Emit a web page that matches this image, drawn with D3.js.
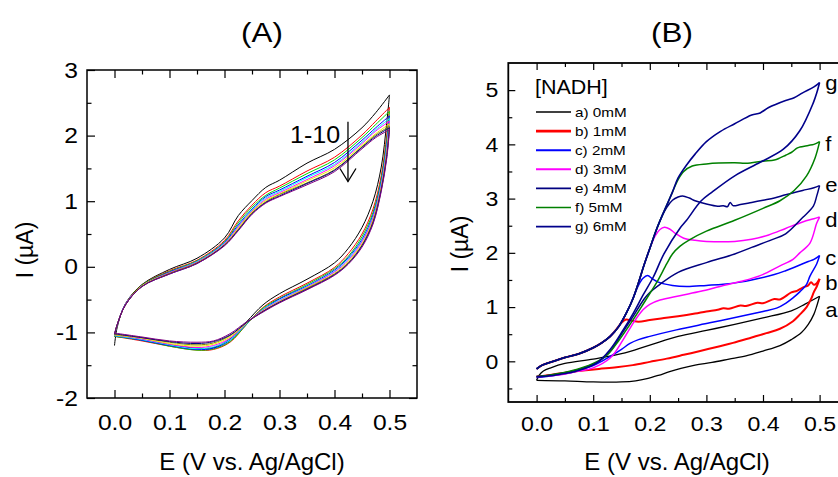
<!DOCTYPE html>
<html>
<head>
<meta charset="utf-8">
<script src="https://cdn.jsdelivr.net/npm/d3@7"></script>
<style>
body{margin:0;background:#fff}
text{font-family:"Liberation Sans",Arial,sans-serif;fill:#000}
</style>
</head>
<body>
<svg id="chart" width="838" height="477"></svg>
<script>
// ---------------- Panel A data: 10 consecutive CV cycles ----------------
const cyclesA = ["1","2","3","4","5","6","7","8","9","10"];
const potentialA_fwd = [0, 0.005, 0.02, 0.05, 0.1, 0.15, 0.2, 0.225, 0.25, 0.275, 0.3, 0.35, 0.4, 0.45, 0.475, 0.5];
const potentialA_rev = [0.5, 0.495, 0.485, 0.47, 0.45, 0.425, 0.4, 0.35, 0.3, 0.27, 0.24, 0.21, 0.18, 0.15, 0.1, 0.05, 0.0];
const currentA_fwd = [
  [-1.20,-0.92,-0.56,-0.27,-0.04,0.13,0.44,0.78,1.01,1.21,1.32,1.58,1.79,2.12,2.35,2.62],
  [-1.06,-0.89,-0.57,-0.28,-0.06,0.10,0.40,0.70,0.94,1.13,1.23,1.46,1.67,2.01,2.22,2.43],
  [-1.06,-0.89,-0.57,-0.28,-0.07,0.09,0.38,0.67,0.91,1.09,1.20,1.42,1.63,1.97,2.17,2.37],
  [-1.05,-0.89,-0.57,-0.29,-0.08,0.08,0.37,0.64,0.88,1.07,1.17,1.38,1.59,1.93,2.12,2.30],
  [-1.05,-0.88,-0.57,-0.29,-0.09,0.08,0.36,0.62,0.87,1.05,1.15,1.36,1.56,1.90,2.09,2.26],
  [-1.04,-0.88,-0.57,-0.29,-0.09,0.07,0.35,0.61,0.85,1.03,1.13,1.33,1.54,1.88,2.07,2.22],
  [-1.04,-0.88,-0.58,-0.29,-0.10,0.06,0.34,0.59,0.84,1.01,1.11,1.31,1.51,1.85,2.03,2.18],
  [-1.03,-0.88,-0.58,-0.30,-0.10,0.06,0.33,0.57,0.82,0.99,1.10,1.28,1.48,1.83,2.01,2.14],
  [-1.03,-0.88,-0.58,-0.30,-0.11,0.05,0.33,0.56,0.81,0.98,1.08,1.27,1.47,1.82,1.99,2.12],
  [-1.02,-0.88,-0.58,-0.30,-0.11,0.05,0.32,0.55,0.80,0.97,1.07,1.25,1.45,1.80,1.97,2.09]
];
const currentA_rev = [
  [2.62,2.20,1.52,1.00,0.60,0.28,0.06,-0.19,-0.41,-0.58,-0.84,-1.10,-1.23,-1.24,-1.19,-1.11,-1.06],
  [2.43,2.01,1.39,0.88,0.50,0.20,-0.01,-0.25,-0.46,-0.62,-0.88,-1.15,-1.26,-1.27,-1.21,-1.13,-1.06],
  [2.37,1.94,1.34,0.83,0.46,0.16,-0.03,-0.27,-0.48,-0.63,-0.88,-1.14,-1.25,-1.27,-1.21,-1.12,-1.06],
  [2.30,1.87,1.30,0.79,0.42,0.14,-0.05,-0.29,-0.49,-0.65,-0.87,-1.12,-1.24,-1.26,-1.20,-1.12,-1.05],
  [2.26,1.83,1.27,0.76,0.40,0.12,-0.07,-0.30,-0.51,-0.65,-0.87,-1.11,-1.22,-1.25,-1.19,-1.11,-1.05],
  [2.22,1.79,1.24,0.74,0.38,0.10,-0.08,-0.31,-0.52,-0.66,-0.86,-1.09,-1.20,-1.23,-1.18,-1.10,-1.04],
  [2.18,1.74,1.21,0.71,0.35,0.08,-0.10,-0.32,-0.53,-0.67,-0.86,-1.07,-1.18,-1.21,-1.17,-1.09,-1.04],
  [2.14,1.71,1.19,0.69,0.33,0.06,-0.11,-0.33,-0.54,-0.68,-0.85,-1.05,-1.16,-1.19,-1.15,-1.08,-1.03],
  [2.12,1.68,1.17,0.67,0.32,0.05,-0.12,-0.34,-0.54,-0.68,-0.85,-1.04,-1.14,-1.17,-1.14,-1.08,-1.02],
  [2.09,1.65,1.15,0.65,0.30,0.04,-0.13,-0.35,-0.55,-0.69,-0.84,-1.02,-1.13,-1.15,-1.13,-1.07,-1.01]
];
const xTicksA = [0, 0.1, 0.2, 0.3, 0.4, 0.5];
const xMinorA = [0.05, 0.15, 0.25, 0.35, 0.45];
const yTicksA = [-2, -1, 0, 1, 2, 3];
const yMinorA = [-1.5, -0.5, 0.5, 1.5, 2.5];
const annotationA = {text: "1-10", e: 0.4245, iTop: 2.21, iBottom: 1.30};

// ---------------- Panel B data: [E (V), I (uA)] per NADH concentration ----------------
const labelsB = ["a", "b", "c", "d", "e", "f", "g"];
const legendB = ["a) 0mM", "b) 1mM", "c) 2mM", "d) 3mM", "e) 4mM", "f) 5mM", "g) 6mM"];
const labelLevelB = [0.82, 1.31, 1.78, 2.47, 3.12, 3.88, 5.0];

const nadh0_fwd = [[0,-0.35],[0.005,-0.25],[0.012,-0.18],[0.025,-0.12],[0.05,-0.04],[0.1,0.04],[0.15,0.14],[0.2,0.30],[0.25,0.46],[0.3,0.57],[0.35,0.68],[0.4,0.80],[0.45,0.93],[0.475,1.06],[0.5,1.20]];
const nadh0_rev = [[0.5,1.20],[0.495,1.02],[0.49,0.87],[0.48,0.68],[0.468,0.53],[0.45,0.40],[0.43,0.29],[0.4,0.19],[0.37,0.10],[0.34,0.04],[0.31,-0.02],[0.28,-0.07],[0.255,-0.13],[0.235,-0.19],[0.215,-0.26],[0.195,-0.32],[0.175,-0.36],[0.15,-0.38],[0.1,-0.38],[0.05,-0.36],[0,-0.35]];

const nadh1_fwd = [[0,-0.14],[0.01,-0.07],[0.03,0.0],[0.05,0.07],[0.075,0.14],[0.1,0.25],[0.115,0.34],[0.13,0.46],[0.14,0.58],[0.15,0.71],[0.158,0.77],[0.168,0.75],[0.18,0.73],[0.2,0.76],[0.22,0.79],[0.25,0.83],[0.28,0.88],[0.3,0.92],[0.32,0.95],[0.33,0.98],[0.34,0.97],[0.36,1.03],[0.37,1.02],[0.39,1.08],[0.4,1.07],[0.42,1.15],[0.43,1.14],[0.45,1.27],[0.46,1.30],[0.47,1.36],[0.48,1.40],[0.485,1.46],[0.49,1.41],[0.495,1.44],[0.5,1.52]];
const nadh1_rev = [[0.5,1.52],[0.495,1.38],[0.49,1.28],[0.485,1.15],[0.477,1.0],[0.465,0.86],[0.453,0.74],[0.43,0.60],[0.406,0.52],[0.38,0.44],[0.347,0.34],[0.32,0.27],[0.289,0.19],[0.26,0.12],[0.23,0.05],[0.2,-0.01],[0.17,-0.07],[0.141,-0.11],[0.11,-0.14],[0.082,-0.17],[0.05,-0.21],[0.024,-0.25],[0,-0.28]];

const nadh2_fwd = [[0,-0.14],[0.01,-0.07],[0.03,0.0],[0.05,0.07],[0.075,0.14],[0.1,0.25],[0.115,0.34],[0.13,0.46],[0.145,0.64],[0.16,0.92],[0.17,1.15],[0.18,1.40],[0.188,1.53],[0.196,1.58],[0.205,1.52],[0.215,1.46],[0.24,1.40],[0.265,1.38],[0.3,1.40],[0.33,1.42],[0.36,1.46],[0.38,1.50],[0.42,1.60],[0.44,1.67],[0.45,1.71],[0.48,1.84],[0.49,1.88],[0.5,1.95]];
const nadh2_rev = [[0.5,1.95],[0.495,1.80],[0.483,1.57],[0.477,1.42],[0.465,1.28],[0.453,1.17],[0.44,1.07],[0.424,0.98],[0.4,0.92],[0.365,0.84],[0.306,0.71],[0.247,0.58],[0.2,0.46],[0.18,0.40],[0.165,0.33],[0.15,0.22],[0.13,0.09],[0.115,0.0],[0.1,-0.08],[0.08,-0.15],[0.059,-0.21],[0.03,-0.26],[0,-0.30]];

const nadh3_fwd = [[0,-0.14],[0.01,-0.07],[0.03,0.0],[0.05,0.07],[0.075,0.14],[0.1,0.25],[0.115,0.34],[0.13,0.46],[0.145,0.64],[0.16,0.92],[0.17,1.15],[0.18,1.45],[0.19,1.78],[0.2,2.08],[0.21,2.32],[0.218,2.43],[0.226,2.47],[0.235,2.44],[0.245,2.36],[0.26,2.27],[0.28,2.23],[0.3,2.21],[0.35,2.21],[0.38,2.25],[0.41,2.33],[0.44,2.45],[0.47,2.57],[0.49,2.63],[0.5,2.66]];
const nadh3_rev = [[0.5,2.66],[0.495,2.55],[0.483,2.18],[0.465,2.0],[0.453,1.88],[0.43,1.76],[0.395,1.58],[0.36,1.47],[0.324,1.38],[0.29,1.29],[0.253,1.21],[0.218,1.13],[0.2,1.05],[0.188,0.95],[0.171,0.71],[0.153,0.40],[0.13,0.06],[0.1,-0.12],[0.07,-0.19],[0.041,-0.25],[0,-0.29]];

const nadh4_fwd = [[0,-0.14],[0.01,-0.07],[0.03,0.0],[0.05,0.07],[0.075,0.14],[0.1,0.25],[0.115,0.34],[0.13,0.46],[0.145,0.64],[0.16,0.92],[0.17,1.15],[0.18,1.45],[0.19,1.78],[0.2,2.08],[0.21,2.38],[0.22,2.64],[0.23,2.84],[0.24,2.97],[0.25,3.03],[0.258,3.05],[0.27,3.01],[0.28,2.96],[0.3,2.90],[0.32,2.86],[0.33,2.87],[0.337,2.85],[0.342,2.93],[0.347,2.87],[0.36,2.89],[0.38,2.93],[0.4,2.97],[0.42,3.01],[0.44,3.07],[0.47,3.15],[0.49,3.20],[0.5,3.24]];
const nadh4_rev = [[0.5,3.24],[0.495,3.05],[0.489,2.86],[0.47,2.65],[0.44,2.35],[0.415,2.24],[0.38,2.10],[0.35,1.98],[0.3,1.82],[0.25,1.64],[0.218,1.42],[0.2,1.27],[0.19,1.15],[0.17,0.82],[0.15,0.50],[0.13,0.18],[0.11,0.0],[0.08,-0.13],[0.04,-0.23],[0,-0.29]];

const nadh5_fwd = [[0,-0.14],[0.01,-0.07],[0.03,0.0],[0.05,0.07],[0.075,0.14],[0.1,0.25],[0.115,0.34],[0.13,0.46],[0.145,0.64],[0.16,0.92],[0.17,1.15],[0.18,1.45],[0.19,1.78],[0.2,2.08],[0.21,2.38],[0.22,2.64],[0.23,2.88],[0.24,3.12],[0.25,3.35],[0.26,3.50],[0.275,3.60],[0.3,3.64],[0.35,3.66],[0.37,3.65],[0.4,3.69],[0.42,3.71],[0.43,3.75],[0.44,3.80],[0.45,3.85],[0.46,3.93],[0.465,3.95],[0.48,3.98],[0.49,4.00],[0.5,4.05]];
const nadh5_rev = [[0.5,4.05],[0.492,3.75],[0.477,3.42],[0.455,3.15],[0.43,2.96],[0.4,2.82],[0.35,2.60],[0.3,2.40],[0.27,2.24],[0.253,2.12],[0.24,1.98],[0.23,1.80],[0.212,1.45],[0.2,1.25],[0.185,1.0],[0.165,0.68],[0.145,0.38],[0.125,0.12],[0.1,-0.04],[0.06,-0.18],[0.02,-0.26],[0,-0.28]];

const nadh6_fwd = [[0,-0.14],[0.01,-0.07],[0.03,0.0],[0.05,0.07],[0.075,0.14],[0.1,0.25],[0.115,0.34],[0.13,0.46],[0.145,0.64],[0.16,0.92],[0.17,1.15],[0.18,1.45],[0.19,1.78],[0.2,2.08],[0.21,2.38],[0.22,2.64],[0.23,2.88],[0.24,3.12],[0.25,3.38],[0.265,3.62],[0.28,3.82],[0.3,4.05],[0.325,4.24],[0.35,4.38],[0.38,4.54],[0.395,4.58],[0.41,4.68],[0.44,4.81],[0.455,4.86],[0.47,4.95],[0.49,5.06],[0.5,5.14]];
const nadh6_rev = [[0.5,5.14],[0.495,4.95],[0.489,4.77],[0.465,4.25],[0.436,3.91],[0.395,3.67],[0.35,3.42],[0.31,3.12],[0.29,2.95],[0.265,2.60],[0.253,2.45],[0.225,1.98],[0.206,1.55],[0.188,1.22],[0.171,0.89],[0.153,0.58],[0.13,0.22],[0.106,-0.03],[0.071,-0.18],[0.029,-0.26],[0,-0.28]];

const xTicksB = [0, 0.1, 0.2, 0.3, 0.4, 0.5];
const xMinorB = [0.05, 0.15, 0.25, 0.35, 0.45];
const yTicksB = [0, 1, 2, 3, 4, 5];
const yMinorB = [-0.5, 0.5, 1.5, 2.5, 3.5, 4.5];

// ---------------- styles ----------------
const colorsA = ["#000000","#ff0000","#00dd00","#0000ff","#00ffff","#ff00ff","#eeee00","#808000","#000080","#800080"];
const colorsB = ["#000000","#ff0000","#0000ff","#ff00ff","#000080","#008000","#00008b"];
const widthsB = [1.3, 2.0, 1.5, 1.5, 1.5, 1.5, 1.6];

const svg = d3.select("#chart");
svg.append("rect").attr("width", 838).attr("height", 477).attr("fill", "#fff");

function hs(sel, k) {
  sel.each(function () {
    const t = d3.select(this);
    const x = +(t.attr("x") || 0);
    const prev = t.attr("transform") || "";
    t.attr("x", x / k).attr("transform", (prev ? prev + " " : "") + "scale(" + k + ",1)");
  });
}

function drawFrame(x, y, cfg) {
  const [x0, x1] = x.range();
  const [y0, y1] = y.range();
  const g = svg.append("g");
  const style = a => a.call(s => s.select(".domain").remove())
    .call(s => s.selectAll("line").attr("stroke", "#000").attr("stroke-width", 1.2))
    .attr("font-family", "Liberation Sans, Arial, sans-serif");
  // bottom
  const bx = g.append("g").attr("transform", `translate(0,${y0})`)
    .call(d3.axisBottom(x).tickValues(cfg.xMajor).tickSize(-cfg.major).tickSizeOuter(0)
      .tickPadding(cfg.xPad).tickFormat(d3.format(".1f")));
  style(bx).attr("font-size", cfg.tickFont);
  hs(bx.selectAll("text"), cfg.stretch);
  style(g.append("g").attr("transform", `translate(0,${y0})`)
    .call(d3.axisBottom(x).tickValues(cfg.xMinor).tickSize(-cfg.minor).tickSizeOuter(0).tickFormat("")));
  // top
  style(g.append("g").attr("transform", `translate(0,${y1})`)
    .call(d3.axisTop(x).tickValues(cfg.xMajor).tickSize(-cfg.major).tickSizeOuter(0).tickFormat("")));
  style(g.append("g").attr("transform", `translate(0,${y1})`)
    .call(d3.axisTop(x).tickValues(cfg.xMinor).tickSize(-cfg.minor).tickSizeOuter(0).tickFormat("")));
  // left
  const ly = g.append("g").attr("transform", `translate(${x0},0)`)
    .call(d3.axisLeft(y).tickValues(cfg.yMajor).tickSize(-cfg.major).tickSizeOuter(0)
      .tickPadding(cfg.yPad).tickFormat(d => String(d)));
  style(ly).attr("font-size", cfg.tickFont);
  hs(ly.selectAll("text"), cfg.stretch);
  style(g.append("g").attr("transform", `translate(${x0},0)`)
    .call(d3.axisLeft(y).tickValues(cfg.yMinor).tickSize(-cfg.minor).tickSizeOuter(0).tickFormat("")));
  // right
  style(g.append("g").attr("transform", `translate(${x1},0)`)
    .call(d3.axisRight(y).tickValues(cfg.yMajor).tickSize(-cfg.major).tickSizeOuter(0).tickFormat("")));
  style(g.append("g").attr("transform", `translate(${x1},0)`)
    .call(d3.axisRight(y).tickValues(cfg.yMinor).tickSize(-cfg.minor).tickSizeOuter(0).tickFormat("")));
  g.append("rect").attr("x", x0).attr("y", y1).attr("width", x1 - x0).attr("height", y0 - y1)
    .attr("fill", "none").attr("stroke", "#000").attr("stroke-width", cfg.frameWidth);
}

// ================= Panel A =================
const xA = d3.scaleLinear().domain([-0.05, 0.55]).range([87, 417]);
const yA = d3.scaleLinear().domain([-2, 3]).range([398, 70]);
const lineA = d3.line().x(d => xA(d[0])).y(d => yA(d[1])).curve(d3.curveCatmullRom.alpha(0.5));

const gA = svg.append("g");
cyclesA.forEach((c, i) => {
  const fwd = potentialA_fwd.map((e, j) => [e, currentA_fwd[i][j]]);
  const rev = potentialA_rev.map((e, j) => [e, currentA_rev[i][j]]);
  [fwd, rev].forEach(pts => gA.append("path").attr("d", lineA(pts))
    .attr("fill", "none").attr("stroke", colorsA[i]).attr("stroke-width", 1));
});

drawFrame(xA, yA, {xMajor: xTicksA, xMinor: xMinorA, yMajor: yTicksA, yMinor: yMinorA,
  major: 8, minor: 4.5, xPad: 16, yPad: 9, tickFont: 22, stretch: 1.12, frameWidth: 1.5});

// annotation 1-10 with arrow
const ax = xA(annotationA.e), ayTop = yA(annotationA.iTop), ayBot = yA(annotationA.iBottom);
svg.append("line").attr("x1", ax).attr("x2", ax).attr("y1", ayTop).attr("y2", ayBot)
  .attr("stroke", "#000").attr("stroke-width", 1.3);
svg.append("path").attr("d", `M${ax - 8},${ayBot - 13} L${ax},${ayBot} L${ax + 8},${ayBot - 13}`)
  .attr("fill", "none").attr("stroke", "#000").attr("stroke-width", 1.3);
hs(svg.append("text").attr("x", 290).attr("y", 143).attr("font-size", 23).text(annotationA.text), 1.09);

hs(svg.append("text").attr("x", 262).attr("y", 42).attr("text-anchor", "middle")
  .attr("font-size", 28).text("(A)"), 1.12);
svg.append("text").attr("transform", "translate(33,250) rotate(-90)").attr("text-anchor", "middle")
  .attr("font-size", 23).text("I (µA)");
svg.append("text").attr("x", 252).attr("y", 470).attr("text-anchor", "middle")
  .attr("font-size", 24).text("E (V vs. Ag/AgCl)");

// ================= Panel B =================
const xB = d3.scaleLinear().domain([-0.05, 0.55]).range([508.3, 847.9]);
const yB = d3.scaleLinear().domain([-0.75, 5.5]).range([402, 63]);
const lineB = d3.line().x(d => xB(d[0])).y(d => yB(d[1])).curve(d3.curveCatmullRom.alpha(0.5));

const seriesB = [
  [nadh0_fwd, nadh0_rev], [nadh1_fwd, nadh1_rev], [nadh2_fwd, nadh2_rev], [nadh3_fwd, nadh3_rev],
  [nadh4_fwd, nadh4_rev], [nadh5_fwd, nadh5_rev], [nadh6_fwd, nadh6_rev]
];
const gB = svg.append("g");
seriesB.forEach((branches, i) => {
  branches.forEach(pts => gB.append("path").attr("d", lineB(pts))
    .attr("fill", "none").attr("stroke", colorsB[i]).attr("stroke-width", widthsB[i])
    .attr("stroke-linejoin", "round"));
});

drawFrame(xB, yB, {xMajor: xTicksB, xMinor: xMinorB, yMajor: yTicksB, yMinor: yMinorB,
  major: 7, minor: 4, xPad: 14, yPad: 10, tickFont: 21, stretch: 1.1, frameWidth: 1.8});

// curve end labels
labelsB.forEach((l, i) => {
  hs(svg.append("text").attr("x", xB(0.51)).attr("y", yB(labelLevelB[i]))
    .attr("font-size", 21).text(l), 1.05);
});

// legend
hs(svg.append("text").attr("x", 535).attr("y", 94).attr("font-size", 19.5).text("[NADH]"), 1.1);
legendB.forEach((t, i) => {
  const yy = 112 + i * 19.1;
  svg.append("line").attr("x1", 536).attr("x2", 571).attr("y1", yy).attr("y2", yy)
    .attr("stroke", colorsB[i]).attr("stroke-width", i === 1 ? 2.6 : (i === 2 || i === 3 ? 2 : 1.6));
  hs(svg.append("text").attr("x", 575).attr("y", yy + 4.8).attr("font-size", 13.5).text(t), 1.13);
});

hs(svg.append("text").attr("x", 672).attr("y", 42).attr("text-anchor", "middle")
  .attr("font-size", 28).text("(B)"), 1.12);
svg.append("text").attr("transform", "translate(468,244) rotate(-90)").attr("text-anchor", "middle")
  .attr("font-size", 23).text("I (µA)");
svg.append("text").attr("x", 677).attr("y", 470).attr("text-anchor", "middle")
  .attr("font-size", 24).text("E (V vs. Ag/AgCl)");
</script>
</body>
</html>
